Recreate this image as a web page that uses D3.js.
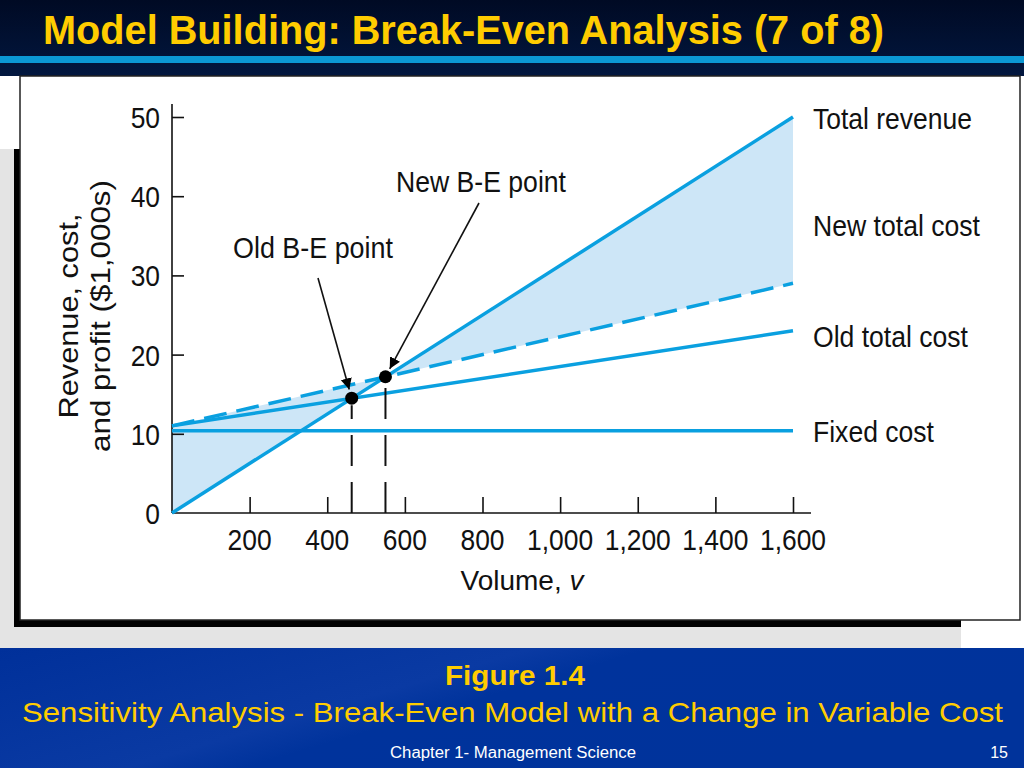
<!DOCTYPE html>
<html>
<head>
<meta charset="utf-8">
<script src="https://cdn.jsdelivr.net/npm/d3@7"></script>
<style>
  html, body { margin: 0; padding: 0; background: #fff; }
  svg { display: block; }
  text { font-family: "Liberation Sans", Arial, Helvetica, sans-serif; }
</style>
</head>
<body>
<div id="slide"></div>
<script>
// chart values ($1,000s against volume v)
const volume = [0, 1600];
const totalRevenue = [0, 50];
const newTotalCost = [11, 29];
const oldTotalCost = [11, 23];
const fixedCost = [10.4, 10.4];

const breakEven = [
    { name: "Old B-E point", v: 463, value: 14.5 },
    { name: "New B-E point", v: 550, value: 17.2 }
];

const xTicks = [200, 400, 600, 800, 1000, 1200, 1400, 1600];
const yTicks = [0, 10, 20, 30, 40, 50];
const seriesLabels = ["Total revenue", "New total cost", "Old total cost", "Fixed cost"];

const W = 1024, H = 768;
const LINE_BLUE = "#0aa0e0";
const FILL_BLUE = "#cde6f7";

// squeeze text horizontally, the figure uses a narrow face
function narrow(sel, factor) {
    sel.each(function () {
        const w = this.getComputedTextLength();
        d3.select(this).attr("textLength", w * factor).attr("lengthAdjust", "spacingAndGlyphs");
    });
}

const svg = d3.select("#slide").append("svg")
    .attr("width", W)
    .attr("height", H);

const defs = svg.append("defs");
const headGrad = defs.append("linearGradient").attr("id", "head").attr("x1", 0).attr("y1", 0).attr("x2", 0).attr("y2", 1);
headGrad.append("stop").attr("offset", "0%").attr("stop-color", "#000a24");
headGrad.append("stop").attr("offset", "100%").attr("stop-color", "#02173f");
const footGrad = defs.append("linearGradient").attr("id", "foot").attr("x1", 0).attr("y1", 0).attr("x2", 1).attr("y2", 0.4);
footGrad.append("stop").attr("offset", "0%").attr("stop-color", "#00309a");
footGrad.append("stop").attr("offset", "45%").attr("stop-color", "#0a3aa3");
footGrad.append("stop").attr("offset", "55%").attr("stop-color", "#00339c");
footGrad.append("stop").attr("offset", "100%").attr("stop-color", "#00339b");
defs.append("marker")
    .attr("id", "arrow")
    .attr("viewBox", "0 0 10 10")
    .attr("refX", 10).attr("refY", 5)
    .attr("markerWidth", 7).attr("markerHeight", 9)
    .attr("markerUnits", "strokeWidth")
    .attr("orient", "auto")
    .append("path")
    .attr("d", "M0,0 L10,5 L0,10 Z")
    .attr("fill", "#000");

// header band
svg.append("rect").attr("x", 0).attr("y", 0).attr("width", W).attr("height", 76).attr("fill", "url(#head)");
svg.append("rect").attr("x", 0).attr("y", 56).attr("width", W).attr("height", 7).attr("fill", "#0b98d4");
svg.append("text")
    .attr("x", 43).attr("y", 44)
    .attr("font-size", 40).attr("font-weight", "bold")
    .attr("fill", "#ffcc00")
    .attr("textLength", 841).attr("lengthAdjust", "spacingAndGlyphs")
    .text("Model Building: Break-Even Analysis (7 of 8)");

// picture frame: grey backdrop, black shadow, white panel
svg.append("rect").attr("x", 0).attr("y", 149).attr("width", 961).attr("height", 499).attr("fill", "#e4e4e4");
svg.append("rect").attr("x", 14).attr("y", 149).attr("width", 947).attr("height", 478).attr("fill", "#000");
svg.append("rect").attr("x", 20).attr("y", 76).attr("width", 1000).attr("height", 544)
    .attr("fill", "#fff").attr("stroke", "#222").attr("stroke-width", 1.5);

// footer band
svg.append("rect").attr("x", 0).attr("y", 648).attr("width", W).attr("height", 120).attr("fill", "url(#foot)");
svg.append("text")
    .attr("x", 515).attr("y", 685).attr("text-anchor", "middle")
    .attr("font-size", 27).attr("font-weight", "bold").attr("fill", "#ffcc00")
    .attr("textLength", 140).attr("lengthAdjust", "spacingAndGlyphs")
    .text("Figure 1.4");
svg.append("text")
    .attr("x", 22).attr("y", 722)
    .attr("font-size", 28).attr("fill", "#ffcc00")
    .attr("textLength", 981).attr("lengthAdjust", "spacingAndGlyphs")
    .text("Sensitivity Analysis - Break-Even Model with a Change in Variable Cost");
svg.append("text")
    .attr("x", 513).attr("y", 758).attr("text-anchor", "middle")
    .attr("font-size", 16).attr("fill", "#fff")
    .attr("textLength", 246).attr("lengthAdjust", "spacingAndGlyphs")
    .text("Chapter 1- Management Science");
svg.append("text")
    .attr("x", 1008).attr("y", 758).attr("text-anchor", "end")
    .attr("font-size", 16).attr("fill", "#fff")
    .text("15");

// chart
const x = d3.scaleLinear().domain([0, 1600]).range([172, 793]);
const y = d3.scaleLinear().domain([0, 50]).range([513, 117]);
const g = svg.append("g");

const pt = (v, val) => [x(v), y(val)];
const last = volume.length - 1;
const newBE = breakEven[1];

// shaded loss and profit regions (new cost vs revenue)
g.append("path")
    .attr("d", d3.line()([pt(volume[0], newTotalCost[0]), pt(newBE.v, newBE.value), pt(volume[0], totalRevenue[0])]) + "Z")
    .attr("fill", FILL_BLUE);
g.append("path")
    .attr("d", d3.line()([pt(newBE.v, newBE.value), pt(volume[last], totalRevenue[last]), pt(volume[last], newTotalCost[last])]) + "Z")
    .attr("fill", FILL_BLUE);

// axes
const yAxis = g.append("g")
    .attr("transform", `translate(${x(0)},0)`)
    .call(d3.axisRight(y).tickValues(yTicks.filter(d => d > 0)).tickSize(12).tickFormat(""));
yAxis.select(".domain").attr("d", `M0,104V${y(0)}`);
const xAxis = g.append("g")
    .attr("transform", `translate(0,${y(0)})`)
    .call(d3.axisTop(x).tickValues(xTicks).tickSize(16).tickFormat(""));
xAxis.select(".domain").attr("d", `M${x(0)},0H811`);
g.selectAll(".domain, .tick line").attr("stroke", "#111").attr("stroke-width", 1.6);

g.selectAll(".ylab").data(yTicks).join("text")
    .attr("class", "ylab")
    .attr("x", 160).attr("y", d => y(d) + 11)
    .attr("text-anchor", "end")
    .attr("font-size", 30).attr("fill", "#111")
    .text(d => d)
    .call(narrow, 0.88);
g.selectAll(".xlab").data(xTicks).join("text")
    .attr("class", "xlab")
    .attr("x", d => x(d)).attr("y", 550)
    .attr("text-anchor", "middle")
    .attr("font-size", 30).attr("fill", "#111")
    .text(d => d3.format(",")(d))
    .call(narrow, 0.88);

const xTitle = g.append("text")
    .attr("x", 522).attr("y", 590)
    .attr("text-anchor", "middle")
    .attr("font-size", 28).attr("fill", "#111");
xTitle.append("tspan").text("Volume, ");
xTitle.append("tspan").attr("font-style", "italic").text("v");

const yTitle = g.append("text")
    .attr("transform", "translate(78,316) rotate(-90)")
    .attr("text-anchor", "middle")
    .attr("font-size", 28).attr("fill", "#111");
yTitle.append("tspan").attr("x", 0).attr("y", 0).attr("textLength", 205).attr("lengthAdjust", "spacingAndGlyphs").text("Revenue, cost,");
yTitle.append("tspan").attr("x", 0).attr("y", 32).attr("textLength", 272).attr("lengthAdjust", "spacingAndGlyphs").text("and profit ($1,000s)");

// lines
const line = d3.line().x((d, i) => x(volume[i])).y(d => y(d));
g.append("path").attr("d", line(fixedCost)).attr("fill", "none").attr("stroke", LINE_BLUE).attr("stroke-width", 3.5);
g.append("path").attr("d", line(oldTotalCost)).attr("fill", "none").attr("stroke", LINE_BLUE).attr("stroke-width", 3.5);
g.append("path").attr("d", line(newTotalCost)).attr("fill", "none").attr("stroke", LINE_BLUE).attr("stroke-width", 3.5)
    .attr("stroke-dasharray", "23,10");
g.append("path").attr("d", line(totalRevenue)).attr("fill", "none").attr("stroke", LINE_BLUE).attr("stroke-width", 3.5);

// series labels at the right
const labelY = [119, 226, 337, 432];
const labelW = [159, 167, 155, 121];
g.selectAll(".slab").data(seriesLabels).join("text")
    .attr("class", "slab")
    .attr("x", 813).attr("y", (d, i) => labelY[i] + 10)
    .attr("font-size", 29).attr("fill", "#111")
    .attr("textLength", (d, i) => labelW[i]).attr("lengthAdjust", "spacingAndGlyphs")
    .text(d => d);

// break-even drop lines, dots and call-outs
g.selectAll(".drop").data(breakEven).join("line")
    .attr("class", "drop")
    .attr("x1", d => x(d.v)).attr("x2", d => x(d.v))
    .attr("y1", y(0)).attr("y2", d => y(d.value) + 7)
    .attr("stroke", "#111").attr("stroke-width", 2)
    .attr("stroke-dasharray", "31,16");
g.selectAll(".dot").data(breakEven).join("circle")
    .attr("class", "dot")
    .attr("cx", d => x(d.v)).attr("cy", d => y(d.value))
    .attr("r", 6.5).attr("fill", "#000");

const calloutText = [{ x: 313, y: 258, w: 160 }, { x: 481, y: 192, w: 170 }];
const calloutFrom = [[318, 278], [479, 203]];
breakEven.forEach((d, i) => {
    const [x0, y0] = calloutFrom[i];
    const x1 = x(d.v), y1 = y(d.value);
    const len = Math.hypot(x1 - x0, y1 - y0);
    const k = (len - 9) / len;
    g.append("line")
        .attr("x1", x0).attr("y1", y0)
        .attr("x2", x0 + (x1 - x0) * k).attr("y2", y0 + (y1 - y0) * k)
        .attr("stroke", "#111").attr("stroke-width", 1.6)
        .attr("marker-end", "url(#arrow)");
    g.append("text")
        .attr("x", calloutText[i].x).attr("y", calloutText[i].y)
        .attr("text-anchor", "middle")
        .attr("font-size", 29).attr("fill", "#111")
        .attr("textLength", calloutText[i].w).attr("lengthAdjust", "spacingAndGlyphs")
        .text(d.name);
});
</script>
</body>
</html>
